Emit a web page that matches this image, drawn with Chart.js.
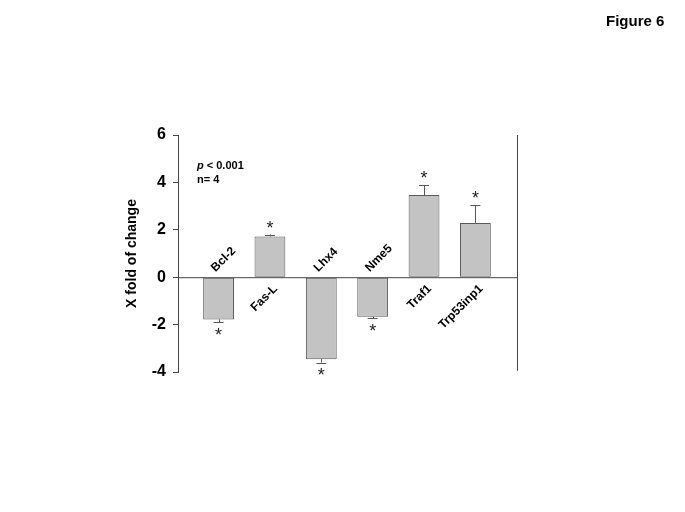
<!DOCTYPE html>
<html>
<head>
<meta charset="utf-8">
<script src="https://cdn.jsdelivr.net/npm/chart.js@4"></script>
<style>
  html, body { margin: 0; padding: 0; background: #fff; }
  #wrap { width: 685px; height: 512px; }
</style>
</head>
<body>
<div id="wrap"><canvas id="chart" width="685" height="512"></canvas></div>
<script>
// values
const categories = ["Bcl-2", "Fas-L", "Lhx4", "Nme5", "Traf1", "Trp53inp1"];
const foldChange = [-1.78, 1.72, -3.46, -1.67, 3.47, 2.29];
const errors = [0.13, 0.08, 0.14, 0.07, 0.40, 0.74];
const yTicks = [-4, -2, 0, 2, 4, 6];

const FONT = "'Liberation Sans', Arial, sans-serif";
const AXIS_COLOR = "#444";

// error bars, asterisks, labels and the little text bits
const extras = {
    id: "extras",
    afterDatasetsDraw(chart) {
        const ctx = chart.ctx;
        const x = chart.scales.x, y = chart.scales.y;
        const area = chart.chartArea;
        const zeroY = y.getPixelForValue(0);

        ctx.save();
        ctx.strokeStyle = AXIS_COLOR;
        ctx.lineWidth = 1;
        // zero line
        ctx.beginPath();
        ctx.moveTo(area.left, zeroY + 0.5);
        ctx.lineTo(area.right, zeroY + 0.5);
        ctx.stroke();
        // right frame line
        ctx.beginPath();
        ctx.moveTo(area.right + 0.5, area.top);
        ctx.lineTo(area.right + 0.5, y.getPixelForValue(-3.95));
        ctx.stroke();

        categories.forEach(function (name, i) {
            const cx = x.getPixelForValue(i);
            const v = foldChange[i];
            const dir = v >= 0 ? 1 : -1;
            const top = y.getPixelForValue(v);
            const end = y.getPixelForValue(v + dir * errors[i]);

            ctx.strokeStyle = "#555";
            ctx.beginPath();
            ctx.moveTo(Math.round(cx) + 0.5, top);
            ctx.lineTo(Math.round(cx) + 0.5, end);
            ctx.moveTo(cx - 5, Math.round(end) + 0.5);
            ctx.lineTo(cx + 5, Math.round(end) + 0.5);
            ctx.stroke();

            // significance star
            ctx.fillStyle = "#222";
            ctx.font = "18px " + FONT;
            ctx.textAlign = "center";
            ctx.textBaseline = "middle";
            ctx.fillText("*", cx, dir > 0 ? end - 6 : end + 14);

            // category label on the other side of the zero line
            ctx.fillStyle = "#000";
            ctx.font = "bold 12px " + FONT;
            ctx.textBaseline = "alphabetic";
            ctx.save();
            if (dir < 0) {
                ctx.translate(cx - 3, zeroY - 5);
                ctx.textAlign = "left";
            } else {
                ctx.translate(cx + 8, zeroY + 12);
                ctx.textAlign = "right";
            }
            ctx.rotate(-Math.PI / 4);
            ctx.fillText(name, 0, 0);
            ctx.restore();
        });

        // stats note
        ctx.fillStyle = "#000";
        ctx.textAlign = "left";
        ctx.textBaseline = "alphabetic";
        ctx.font = "italic bold 11px " + FONT;
        ctx.fillText("p", 197, 169);
        const pw = ctx.measureText("p").width;
        ctx.font = "bold 11px " + FONT;
        ctx.fillText(" < 0.001", 197 + pw, 169);
        ctx.fillText("n= 4", 197, 183);

        ctx.font = "bold 15px " + FONT;
        ctx.fillText("Figure 6", 606, 26);
        ctx.restore();
    }
};

new Chart(document.getElementById("chart"), {
    type: "bar",
    data: {
        datasets: [{
            data: categories.map(function (c, i) { return { x: i, y: foldChange[i] }; }),
            backgroundColor: "#c3c3c3",
            borderColor: "#5a5a5a",
            borderWidth: 1,
            borderSkipped: false,
            categoryPercentage: 1,
            barPercentage: 0.6
        }]
    },
    options: {
        responsive: false,
        animation: false,
        events: [],
        layout: { padding: { left: 120, top: 135, right: 168, bottom: 140 } },
        plugins: { legend: { display: false }, tooltip: { enabled: false } },
        scales: {
            x: {
                type: "linear",
                display: false,
                offset: false,
                min: -0.79,
                max: 5.81,
                afterBuildTicks: function (scale) {
                    scale.ticks = categories.map(function (c, i) { return { value: i }; });
                }
            },
            y: {
                min: -4,
                max: 6,
                afterFit: function (scale) { scale.width = 58; },
                afterBuildTicks: function (scale) {
                    scale.ticks = yTicks.map(function (v) { return { value: v }; });
                },
                border: { display: true, color: AXIS_COLOR, width: 1 },
                grid: { drawOnChartArea: false, drawTicks: true, tickLength: 5, color: AXIS_COLOR },
                ticks: {
                    padding: 7,
                    color: "#000",
                    font: { family: FONT, size: 16, weight: "bold" }
                },
                title: {
                    display: true,
                    text: "X fold of change",
                    color: "#000",
                    padding: { top: 4, bottom: 0 },
                    font: { family: FONT, size: 14, weight: "bold" }
                }
            }
        }
    },
    plugins: [extras]
});
</script>
</body>
</html>
